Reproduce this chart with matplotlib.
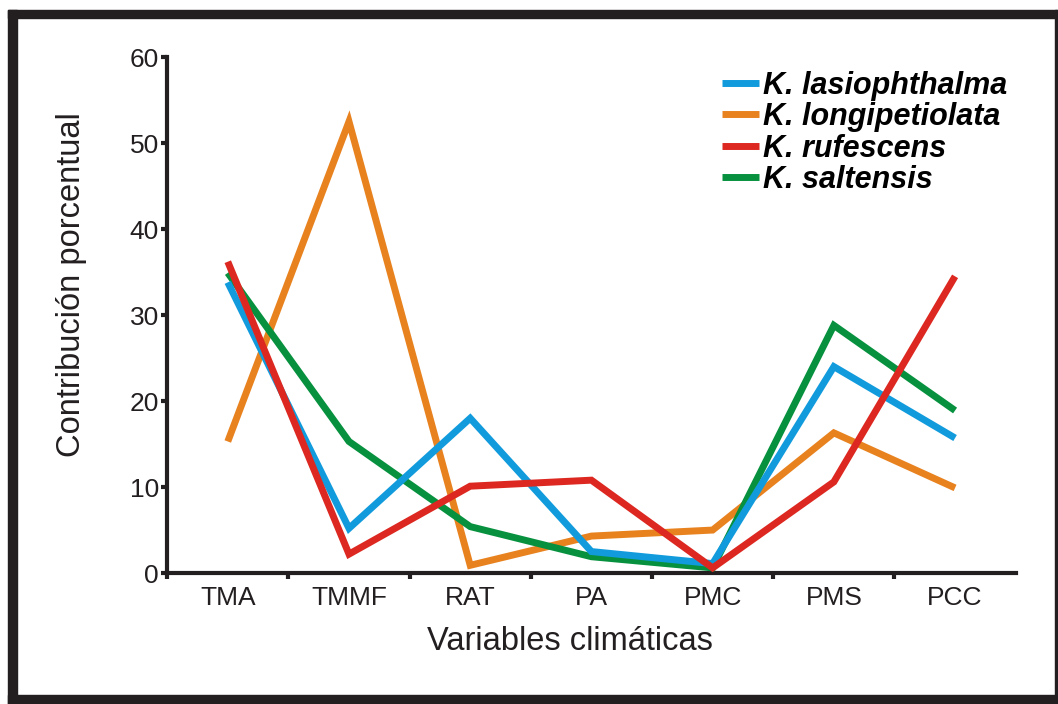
import matplotlib
matplotlib.use("Agg")
import matplotlib.pyplot as plt
from matplotlib.patches import Rectangle

plt.rcParams['font.family'] = ['Liberation Sans', 'DejaVu Sans']

# --- Datos ---
variables = ["TMA", "TMMF", "RAT", "PA", "PMC", "PMS", "PCC"]
especies = ["K. lasiophthalma", "K. longipetiolata", "K. rufescens", "K. saltensis"]

lasiophthalma = [33.8, 5.2, 18.0, 2.5, 1.1, 24.0, 15.7]
longipetiolata = [15.3, 52.5, 0.9, 4.3, 5.0, 16.3, 9.9]
rufescens = [36.2, 2.2, 10.1, 10.8, 0.6, 10.6, 34.5]
saltensis = [34.9, 15.3, 5.4, 1.9, 0.6, 28.8, 18.9]

series = [lasiophthalma, longipetiolata, rufescens, saltensis]
colores = ["#119BDD", "#E8821F", "#DC2820", "#07913F"]
capas = [4, 2, 5, 3]

fig = plt.figure(figsize=(10.58, 7.04), dpi=100)
ax = fig.add_axes([0.158, 0.186, 0.802, 0.733])

x = list(range(len(variables)))
for nombre, vals, col, z in zip(especies, series, colores, capas):
    ax.plot(x, vals, color=col, lw=5, label=nombre, zorder=z,
            solid_joinstyle='miter', solid_capstyle='butt')

ax.set_xlim(-0.5, 6.5)
ax.set_ylim(0, 60)
ax.set_yticks([0, 10, 20, 30, 40, 50, 60])
ax.set_xticks([i - 0.5 for i in range(7)])
ax.set_xticklabels([])
ax.set_xticks(x, minor=True)
ax.set_xticklabels(variables, minor=True)

for s in ["top", "right"]:
    ax.spines[s].set_visible(False)
for s in ["left", "bottom"]:
    ax.spines[s].set_linewidth(3)
    ax.spines[s].set_color("#231F20")

ax.tick_params(axis="y", direction="out", length=4, width=3, colors="#231F20",
               labelsize=19, pad=2)
ax.tick_params(axis="x", which="major", direction="out", length=4, width=3,
               colors="#231F20")
ax.tick_params(axis="x", which="minor", length=0, labelsize=19, pad=9,
               colors="#231F20")

ax.set_xlabel("Variables climáticas", fontsize=23.5, color="#231F20")
ax.set_ylabel("Contribución porcentual", fontsize=23.5, color="#231F20")
ax.xaxis.set_label_coords(0.475, -0.102)
ax.yaxis.set_label_coords(-0.094, 0.558)

leg = ax.legend(loc="upper left", bbox_to_anchor=(0.640, 0.997), frameon=False,
                handlelength=1.2, handletextpad=0.12, labelspacing=0.045,
                borderaxespad=0,
                prop={"size": 22, "weight": "bold", "style": "italic"})
for h in leg.get_lines():
    h.set_linewidth(5)

# marco negro alrededor de la figura
W, H = 1058, 704
fig.patches.append(Rectangle((8 / W, 0), 9 / W, 1 - 10 / H, transform=fig.transFigure,
                             color="#231F20", zorder=10))
fig.patches.append(Rectangle((8 / W, 1 - 18 / H), 1 - 8 / W, 8 / H, transform=fig.transFigure,
                             color="#231F20", zorder=10))
fig.patches.append(Rectangle((8 / W, 0), 1 - 8 / W, 9 / H, transform=fig.transFigure,
                             color="#231F20", zorder=10))
fig.patches.append(Rectangle((1055 / W, 0), 2 / W, 1 - 10 / H, transform=fig.transFigure,
                             color="#231F20", zorder=10))

fig.savefig("out.png", dpi=100)
